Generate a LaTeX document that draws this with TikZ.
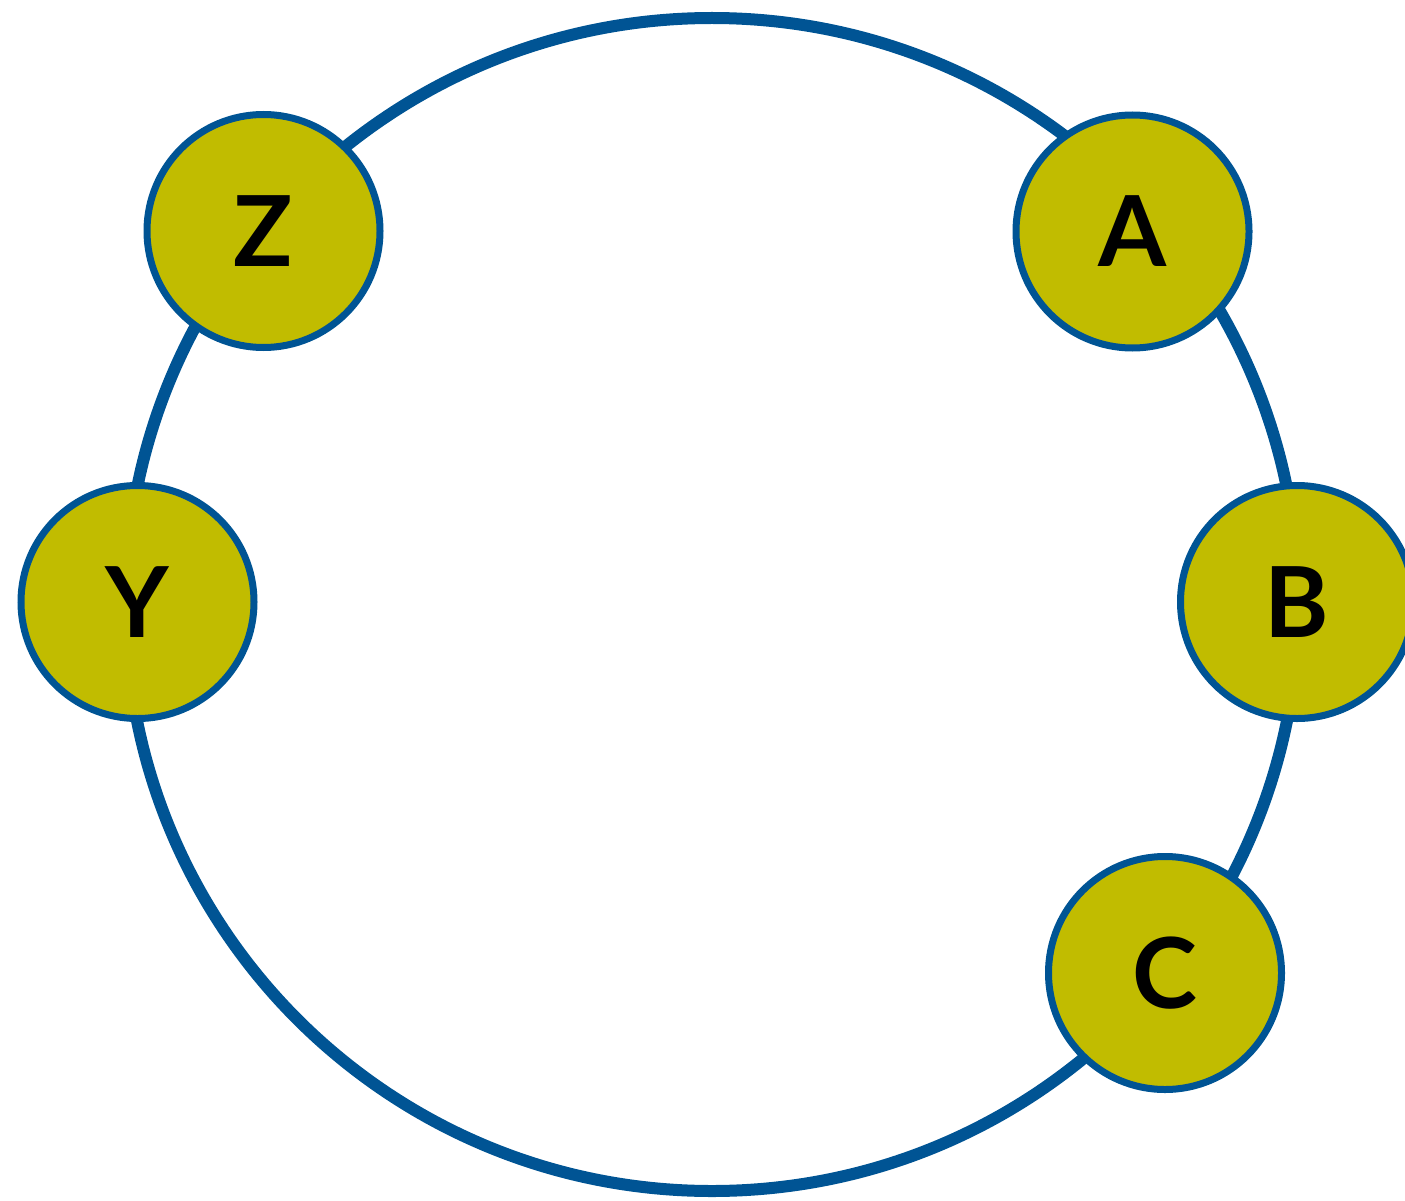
\documentclass[tikz,border=0pt]{standalone}
\usepackage{fontspec}
\setmainfont{Lato}
\definecolor{ringblue}{RGB}{0,84,148}
\definecolor{olivefill}{RGB}{193,188,0}
\tikzset{
  ring/.style={draw=ringblue, line width=12pt},
  member/.style={circle, draw=ringblue, line width=7pt, fill=olivefill,
    minimum size=233pt, inner sep=0pt,
    font=\fontsize{98}{98}\selectfont\bfseries, text=black}
}
\begin{document}
\begin{tikzpicture}[x=1pt,y=-1pt]
\useasboundingbox (0,0) rectangle (1405,1201);
\coordinate (ctr) at (712,604.5);
\draw[ring] (ctr) circle[radius=586.5pt];
\node[member] (Z) at (263.5,231) {Z};
\node[member] (A) at (1132.5,231.5) {A};
\node[member] (Y) at (137.5,602) {Y};
\node[member] (B) at (1297,602) {B};
\node[member] (C) at (1165,973) {C};
\end{tikzpicture}
\end{document}
